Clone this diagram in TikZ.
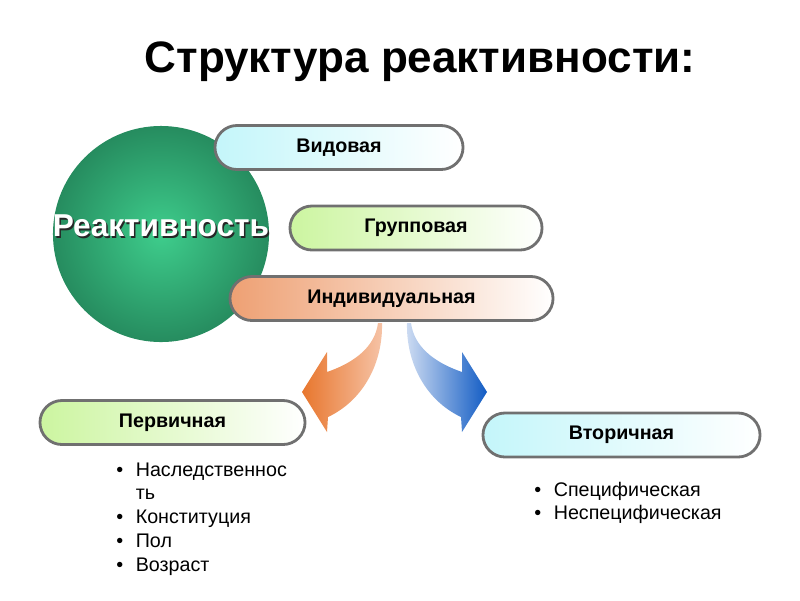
\documentclass[tikz,border=0pt]{standalone}
\usepackage{fontspec}
\setmainfont{Liberation Sans}
\definecolor{pillCyan}{RGB}{196,246,250}
\definecolor{pillGreen}{RGB}{204,245,160}
\definecolor{pillOrange}{RGB}{238,160,115}
\definecolor{pillEdge}{RGB}{112,112,112}
\definecolor{ballLight}{RGB}{62,205,140}
\definecolor{ballDark}{RGB}{38,140,95}
\definecolor{arrOrange}{RGB}{232,118,45}
\definecolor{arrPeach}{RGB}{246,196,168}
\definecolor{arrBlue}{RGB}{18,92,196}
\definecolor{arrIce}{RGB}{206,220,242}
\tikzset{
  pill/.style={rounded corners=0.55cm,draw=pillEdge,line width=2pt,minimum height=1.1cm,
    right color=white,font=\bfseries\fontsize{14}{16}\selectfont},
  listtext/.style={anchor=base west,inner sep=0pt,font=\fontsize{14}{17}\selectfont}
}
\begin{document}
\begin{tikzpicture}[x=0.025cm,y=-0.025cm]
\useasboundingbox (0,0) rectangle (800,600);
\node (title) at (420,62) {\bfseries\fontsize{31.3}{36}\selectfont Структура реактивности:};
% circle with its white label
\node[circle,minimum size=5.4cm,inner sep=0pt,inner color=ballLight,outer color=ballDark] (ball) at (161,234) {};
\node[font=\bfseries\fontsize{22.5}{26}\selectfont,text=black!85] (reactshadow) at (162.5,227.5) {Реактивность};
\node[font=\bfseries\fontsize{22.5}{26}\selectfont,text=white] (react) at (161,226) {Реактивность};
% the three kinds
\node[pill,left color=pillCyan,minimum width=6.2cm] (vid) at (339,147.5) {Видовая};
\node[pill,left color=pillGreen,minimum width=6.3cm] (grp) at (416,228) {Групповая};
\node[pill,left color=pillOrange,minimum width=8.075cm] (ind) at (391.5,298.5) {Индивидуальная};
% curved arrows
\shade[left color=arrOrange,right color=arrPeach]
  (302,392) -- (327,352) -- (327,372) .. controls (356,362) and (375,346) .. (378,323)
  -- (382,323) .. controls (383,362) and (364,400) .. (328,417) -- (327,432) -- cycle;
\shade[left color=arrIce,right color=arrBlue]
  (487,392) -- (462,352) -- (462,372) .. controls (433,362) and (414,346) .. (411,323)
  -- (407,323) .. controls (406,362) and (425,400) .. (461,417) -- (462,432) -- cycle;
% the two outcomes
\node[pill,left color=pillGreen,minimum width=6.625cm] (prim) at (172.5,422.5) {Первичная};
\node[pill,left color=pillCyan,minimum width=6.925cm] (sec) at (621.5,435) {Вторичная};
\node[listtext] (primlist) at (116,476) {\begin{tabular}[t]{@{}l@{\hspace{9pt}}l@{}}
\textbullet & Наследственнос\\
 & ть\\
\textbullet & Конституция\\
\textbullet & Пол\\
\textbullet & Возраст
\end{tabular}};
\node[listtext] (seclist) at (534,496) {\begin{tabular}[t]{@{}l@{\hspace{9pt}}l@{}}
\textbullet & Специфическая\\
\textbullet & Неспецифическая
\end{tabular}};
\end{tikzpicture}
\end{document}
